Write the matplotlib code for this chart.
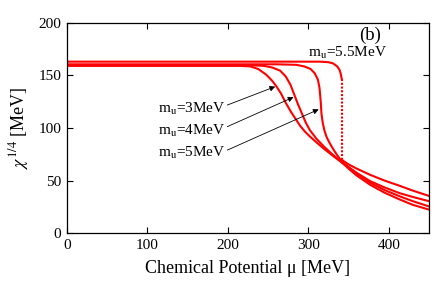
import matplotlib
matplotlib.use("Agg")
import matplotlib.pyplot as plt

plt.rcParams['font.family'] = ['Liberation Serif', 'DejaVu Serif']
plt.rcParams['mathtext.fontset'] = 'stix'

# Curves: chemical potential mu [MeV] vs chi^{1/4} [MeV]
mu_3 = [0, 215, 228, 238, 248, 255, 260, 266, 272, 278, 284, 290, 296, 302, 310, 320, 330, 343, 350, 360, 377, 395, 414, 430, 450]
chi_3 = [159, 159, 158.5, 156, 150.5, 145, 140, 133, 124, 116, 109, 102, 96.5, 92, 86.5, 80, 74, 66.5, 61.5, 55, 46, 38.5, 32, 27, 22.5]

mu_4 = [0, 230, 245, 255, 265, 272, 278, 283, 287, 292, 297, 302, 310, 320, 330, 343, 350, 360, 377, 395, 414, 430, 450]
chi_4 = [159.5, 159.5, 159, 157.5, 154.5, 149, 141, 131, 123, 114, 105, 98, 90, 82, 75, 66.5, 62.5, 57, 48, 41, 35, 30.5, 25.5]

mu_5 = [0, 260, 285, 295, 303, 308, 312, 314, 315.5, 316.5, 318, 320, 322.5, 325, 329, 333, 338, 343, 350, 360, 377, 395, 414, 430, 450]
chi_5 = [160.5, 160.5, 160, 158.5, 156, 152, 146, 138, 125, 113, 105, 98, 92, 88, 82.5, 77.5, 72, 67, 63, 57.5, 49.5, 43.5, 38, 34.5, 30.5]

mu_55_upper = [0, 315, 325, 331, 336, 339, 340.5, 341.5]
chi_55_upper = [163, 163, 162.5, 161.3, 158.5, 155, 151, 147]
mu_55_jump = [341.5, 341.5]
chi_55_jump = [147, 70]
mu_55_lower = [341.5, 345, 350, 360, 377, 395, 414, 430, 450]
chi_55_lower = [70, 68, 65.5, 61.5, 55.5, 50, 45, 40.5, 35.5]

labels = ["m$_{\\rm u}$=3MeV", "m$_{\\rm u}$=4MeV", "m$_{\\rm u}$=5MeV"]
label_pos = [(113, 114.5), (113, 93.5), (113, 73)]
arrow_tail = [(199.5, 121.8), (199.5, 101.3), (199.5, 79)]
arrow_head = [(259, 139.3), (281.7, 129.3), (313, 117.7)]

fig = plt.figure(figsize=(4.43, 2.83), dpi=100)
ax = fig.add_axes([0.1506, 0.1756, 0.8178, 0.7442])

red = '#ff0000'
lw = 1.5
ax.plot(mu_3, chi_3, color=red, lw=lw)
ax.plot(mu_4, chi_4, color=red, lw=lw)
ax.plot(mu_5, chi_5, color=red, lw=lw)
ax.plot(mu_55_upper, chi_55_upper, color=red, lw=lw)
ax.plot(mu_55_jump, chi_55_jump, color=red, lw=lw, linestyle=(0, (1, 0.8)))
ax.plot(mu_55_lower, chi_55_lower, color=red, lw=lw)

for lab, (x, y), t, h in zip(labels, label_pos, arrow_tail, arrow_head):
    ax.text(x, y, lab, fontsize=11, va='baseline', ha='left')
    ax.annotate('', xy=h, xytext=t,
                arrowprops=dict(arrowstyle='-|>', color='black', lw=0.6,
                                mutation_scale=8, shrinkA=0, shrinkB=0))

ax.text(300, 167.5, "m$_{\\rm u}$=5.5MeV", fontsize=11, va='baseline', ha='left')
ax.text(377, 183.5, "(b)", fontsize=13.5, va='baseline', ha='center')

ax.set_xlim(0, 450)
ax.set_ylim(0, 200)
ax.set_xticks([0, 100, 200, 300, 400])
ax.set_yticks([0, 50, 100, 150, 200])
ax.tick_params(direction='in', top=True, right=True, length=4, width=0.8, labelsize=11, pad=4)
for s in ax.spines.values():
    s.set_linewidth(0.9)

ax.set_xlabel("Chemical Potential μ [MeV]", fontsize=13, labelpad=6)
ax.set_ylabel("$\\chi^{1/4}$ [MeV]", fontsize=13, labelpad=5)

fig.savefig("out.png", dpi=100)
